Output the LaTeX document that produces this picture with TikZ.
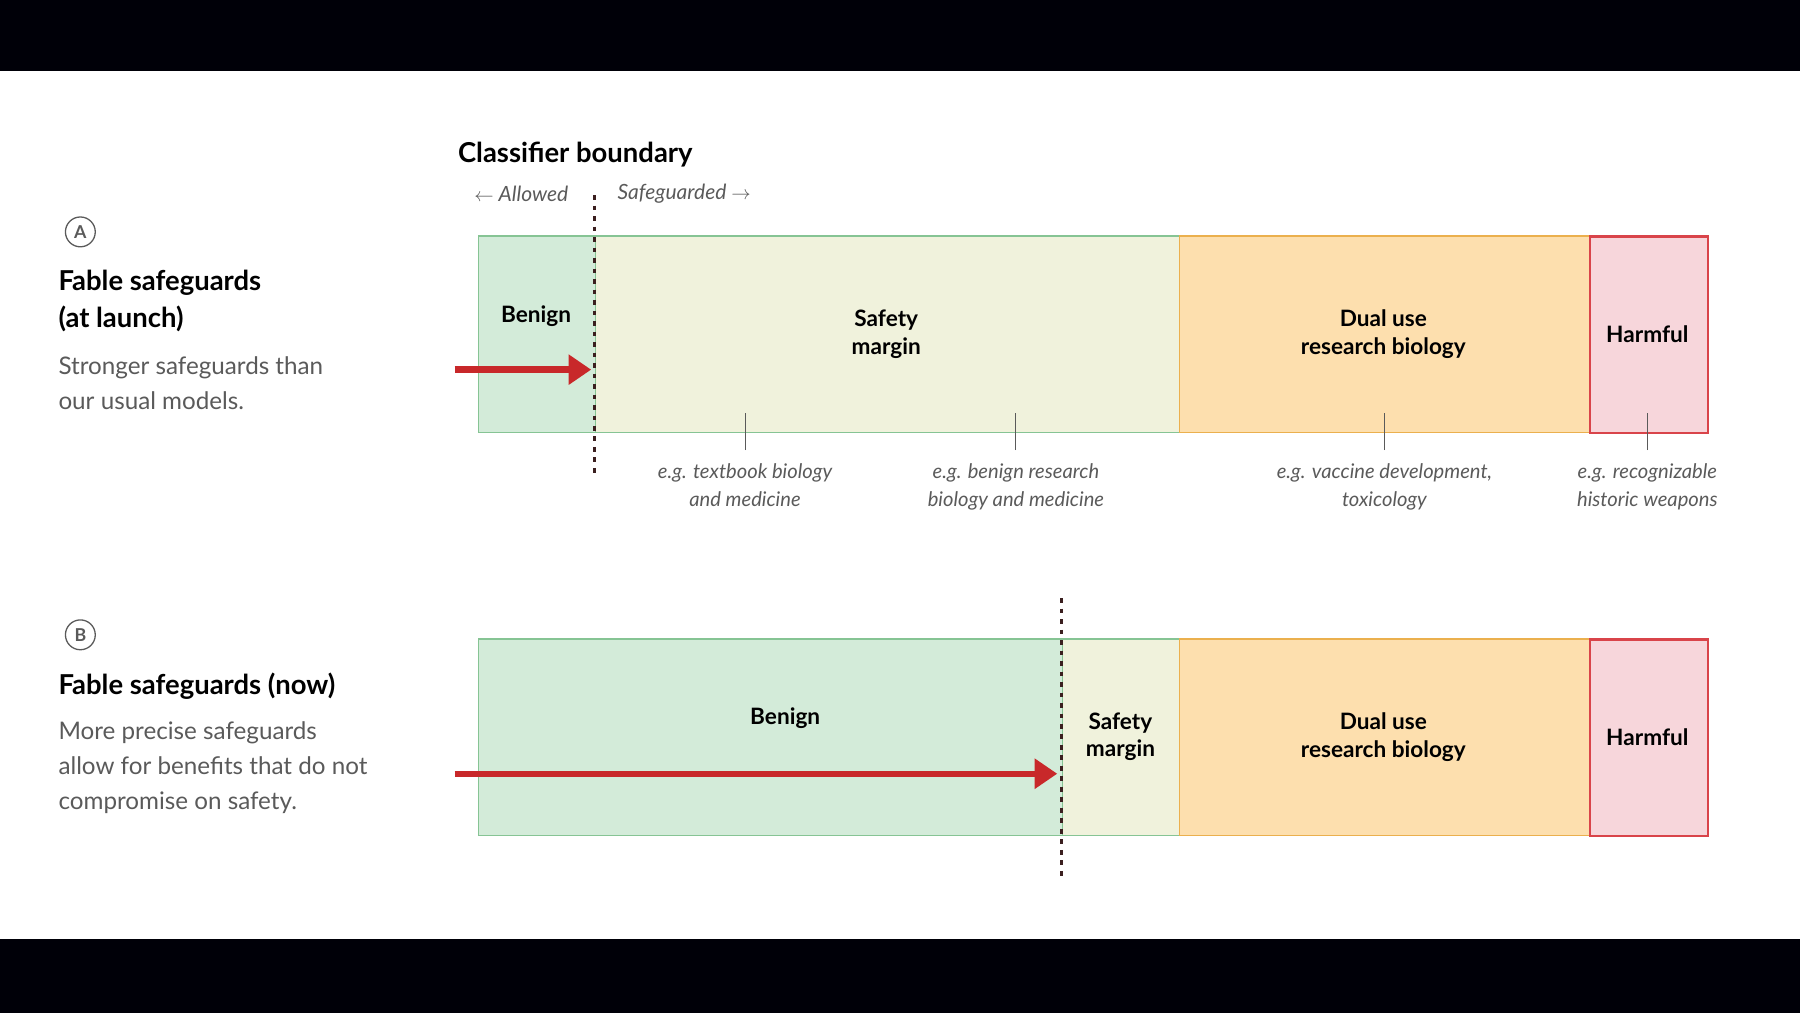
\documentclass[tikz,border=0pt]{standalone}
\usepackage{fontspec}
\setmainfont{Lato}
\usetikzlibrary{arrows.meta,positioning}
\definecolor{benignfill}{HTML}{D3EBD9}
\definecolor{benigndraw}{HTML}{86C494}
\definecolor{marginfill}{HTML}{F0F2DC}
\definecolor{dualfill}{HTML}{FDDFAE}
\definecolor{dualdraw}{HTML}{EBB04E}
\definecolor{harmfill}{HTML}{F7D6DB}
\definecolor{harmdraw}{HTML}{D9444A}
\definecolor{arrowred}{HTML}{C8282A}
\definecolor{boundary}{HTML}{3B1F1F}
\definecolor{textgrey}{HTML}{5A5A5A}
\tikzset{
  box/.style={anchor=north west, inner sep=0pt, minimum height=171*0.025cm, line width=0.9pt},
  boxlabel/.style={font=\fontsize{14}{17}\selectfont\bfseries, align=center},
  note/.style={font=\fontsize{12.5}{17}\selectfont\itshape, text=textgrey, align=center, anchor=north},
  heading/.style={font=\fontsize{17}{23}\selectfont\bfseries, anchor=north west, align=left},
  descr/.style={font=\fontsize{15}{21.5}\selectfont, text=textgrey, anchor=north west, align=left},
  badge/.style={circle, draw=textgrey, line width=0.8pt, inner sep=1pt, minimum size=26*0.025cm, font=\fontsize{11}{12}\selectfont\bfseries, text=textgrey},
  bound/.style={boundary, line width=1.8pt, dash pattern=on 3pt off 3.5pt},
  push/.style={arrowred, line width=4pt, -{Triangle[length=14pt,width=18pt]}},
  tick/.style={textgrey, line width=0.6pt}
}
\begin{document}
\begin{tikzpicture}[x=0.025cm, y=-0.025cm]
    \useasboundingbox (0,0) rectangle (1568,882);
    % Black bars
    \fill[black!97!blue] (0,0) rectangle (1568,62);
    \fill[black!97!blue] (0,818) rectangle (1568,882);

    % Row A
    \node[badge] (badgeA) at (70,202) {A};
    \node[heading] (headA) at (46,230) {Fable safeguards\\(at launch)};
    \node[descr] (descA) at (46,306) {Stronger safeguards than\\our usual models.};
    \node[font=\fontsize{17}{20}\selectfont\bfseries, anchor=west] (title) at (394,135) {Classifier boundary};
    \node[font=\fontsize{13}{16}\selectfont\itshape, text=textgrey, anchor=east] (allowed) at (500,169) {$\leftarrow$ Allowed};
    \node[font=\fontsize{13}{16}\selectfont\itshape, text=textgrey, anchor=west] (guarded) at (533,169) {Safeguarded $\rightarrow$};

    \node[box, fill=benignfill, draw=benigndraw, minimum width=102*0.025cm] (benA) at (416,205) {};
    \node[box, fill=marginfill, draw=benigndraw, minimum width=509*0.025cm] (marA) at (518,205) {};
    \node[box, fill=dualfill, draw=dualdraw, minimum width=357*0.025cm] (dualA) at (1027,205) {};
    \node[box, fill=harmfill, draw=harmdraw, line width=1.5pt, minimum width=103*0.025cm] (harmA) at (1384,205) {};
    \node[boxlabel] at (467,275) {Benign};
    \node[boxlabel] at (772,291) {Safety\\margin};
    \node[boxlabel] at (1205,291) {Dual use\\research biology};
    \node[boxlabel] at (1435,291) {Harmful};

    \coordinate (bndAtop) at (518,170);
    \coordinate (bndAbot) at (518,412);
    \draw[bound] (bndAtop) -- (bndAbot);
    \coordinate (pushAstart) at (396,322);
    \coordinate (pushAend) at (515,322);
    \draw[push] (pushAstart) -- (pushAend);

    % Examples
    \node[note] (exA) at (649,399) {e.g. textbook biology\\and medicine};
    \node[note] (exB) at (885,399) {e.g. benign research\\biology and medicine};
    \node[note] (exC) at (1206,399) {e.g. vaccine development,\\toxicology};
    \node[note] (exD) at (1435,399) {e.g. recognizable\\historic weapons};
    \foreach \ex in {exA,exB,exC,exD}
        \draw[tick] (\ex.north) ++(0,-7) -- ++(0,-32);

    % Row B
    \node[badge] (badgeB) at (70,553) {B};
    \node[heading] (headB) at (46,581) {Fable safeguards (now)};
    \node[descr] (descB) at (46,624) {More precise safeguards\\allow for benefits that do not\\compromise on safety.};

    \node[box, fill=benignfill, draw=benigndraw, minimum width=509*0.025cm] (benB) at (416,556) {};
    \node[box, fill=marginfill, draw=benigndraw, minimum width=102*0.025cm] (marB) at (925,556) {};
    \node[box, fill=dualfill, draw=dualdraw, minimum width=357*0.025cm] (dualB) at (1027,556) {};
    \node[box, fill=harmfill, draw=harmdraw, line width=1.5pt, minimum width=103*0.025cm] (harmB) at (1384,556) {};
    \node[boxlabel] at (684,626) {Benign};
    \node[boxlabel] at (976,642) {Safety\\margin};
    \node[boxlabel] at (1205,642) {Dual use\\research biology};
    \node[boxlabel] at (1435,642) {Harmful};

    \coordinate (bndBtop) at (925,521);
    \coordinate (bndBbot) at (925,764);
    \draw[bound] (bndBtop) -- (bndBbot);
    \coordinate (pushBstart) at (396,674);
    \coordinate (pushBend) at (921,674);
    \draw[push] (pushBstart) -- (pushBend);
\end{tikzpicture}
\end{document}
